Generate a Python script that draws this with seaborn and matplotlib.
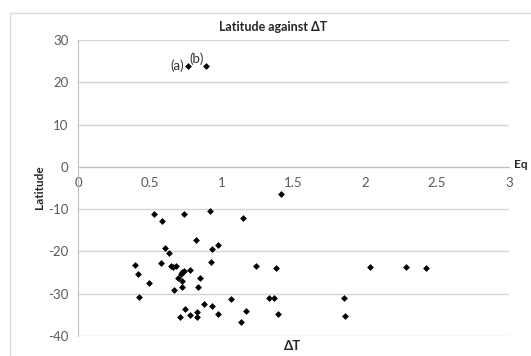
import matplotlib
matplotlib.use("Agg")
import matplotlib.pyplot as plt
import seaborn as sns
import pandas as pd
from matplotlib.lines import Line2D

# ---- data ----
delta_t = [0.396, 0.415, 0.427, 0.496, 0.527, 0.587, 0.577, 0.605, 0.635, 0.647,
           0.663, 0.679, 0.668, 0.698, 0.707, 0.716, 0.727, 0.737, 0.725, 0.727,
           0.737, 0.746, 0.779, 0.779, 0.818, 0.837, 0.848, 0.828, 0.828, 0.876,
           0.918, 0.927, 0.936, 0.936, 0.977, 0.977, 1.066, 1.136, 1.147, 1.168,
           1.238, 1.326, 1.361, 1.379, 1.390, 1.416, 1.852, 1.861, 2.031, 2.281,
           2.420, 0.765, 0.890]
latitude = [-23.1, -25.4, -30.7, -27.4, -11.1, -12.8, -22.8, -19.3, -20.3, -23.5,
            -23.8, -23.5, -29.2, -26.4, -35.5, -25.4, -24.9, -24.7, -27.0, -28.5,
            -11.1, -33.7, -24.4, -35.0, -17.2, -28.5, -26.3, -34.3, -35.4, -32.4,
            -10.5, -22.5, -19.4, -32.8, -18.5, -34.8, -31.3, -36.7, -12.0, -34.2,
            -23.5, -31.0, -31.0, -24.0, -34.7, -6.45, -30.9, -35.3, -23.7, -23.7,
            -23.9, 23.9, 23.8]
x_ticks = [0, 0.5, 1, 1.5, 2, 2.5, 3]
x_tick_labels = ["0", "0.5", "1", "1.5", "2", "2.5", "3"]
y_ticks = [-40, -30, -20, -10, 0, 10, 20, 30]
point_labels = ["(a)", "(b)"]
labelled_points_x = [0.765, 0.890]
labelled_points_y = [23.9, 23.8]

df = pd.DataFrame({"dT": delta_t, "Latitude": latitude})

sns.set_style("white")
plt.rcParams["font.family"] = ["Lato", "DejaVu Sans"]
plt.rcParams["axes.unicode_minus"] = False

W, H = 531, 356
fig = plt.figure(figsize=(W / 100, H / 100), dpi=100)
ax = fig.add_axes([78 / W, 1 - 336 / H, (509 - 78) / W, (336 - 40) / H])

sns.scatterplot(data=df, x="dT", y="Latitude", ax=ax, marker="D", s=12,
                color="black", edgecolor="black", linewidth=0, zorder=3)

ax.set_xlim(0, 3)
ax.set_ylim(-40, 30)
ax.set_xticks(x_ticks)
ax.set_xticklabels(x_tick_labels)
ax.set_yticks(y_ticks)
ax.set_xlabel("")
ax.set_ylabel("")

grid_c = "#d4d4d4"
ax.yaxis.grid(True, color=grid_c, linewidth=1.0)
ax.xaxis.grid(False)
ax.set_axisbelow(True)
for s in ["top", "right"]:
    ax.spines[s].set_visible(False)
ax.spines["bottom"].set_position(("data", 0))
ax.spines["bottom"].set_color("#c0c0c0")
ax.spines["left"].set_color("#c0c0c0")
ax.tick_params(axis="both", colors="#c0c0c0", labelcolor="#595959",
               labelsize=9.5, length=3, width=0.8, direction="out")
ax.tick_params(axis="x", pad=4)
ax.tick_params(axis="y", pad=4)

# point annotations
ax.text(labelled_points_x[0] - 0.025, labelled_points_y[0], point_labels[0],
        ha="right", va="center", fontsize=9.5, color="#303030")
ax.text(labelled_points_x[0] + 0.01, labelled_points_y[1] + 0.3, point_labels[1],
        ha="left", va="bottom", fontsize=9.5, color="#303030")

# titles / labels
fig.text(273 / W, 1 - 27 / H, "Latitude against ΔT", ha="center", va="center",
         fontsize=9, fontweight="bold", color="#262626")
fig.text(39 / W, 1 - 187 / H, "Latitude", ha="center", va="center", rotation=90,
         fontsize=8.5, fontweight="bold", color="#262626")
fig.text(293 / W, 1 - 346 / H, "ΔT", ha="center", va="center",
         fontsize=9.5, fontweight="bold", color="#262626")
fig.text(521 / W, 1 - 164 / H, "Eq", ha="center", va="center",
         fontsize=8.5, fontweight="bold", color="#262626")

# chart-area border (cropped at right and bottom)
bc = "#d9d9d9"
fig.add_artist(Line2D([10 / W, 10 / W], [0, 1 - 13 / H], color=bc, lw=1.0,
                      transform=fig.transFigure))
fig.add_artist(Line2D([10 / W, 1], [1 - 13 / H, 1 - 13 / H], color=bc, lw=1.0,
                      transform=fig.transFigure))

fig.savefig("out.png", dpi=100)
